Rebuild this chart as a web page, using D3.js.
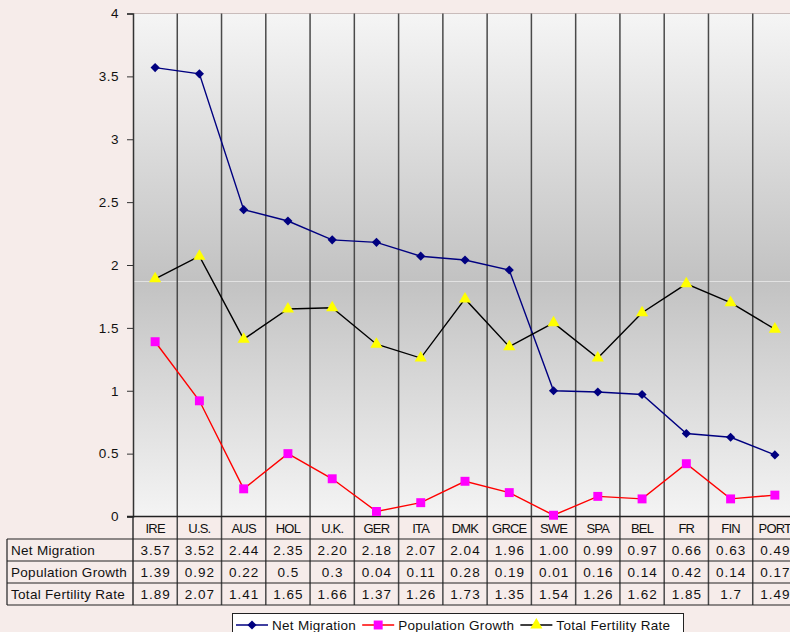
<!DOCTYPE html>
<html>
<head>
<meta charset="utf-8">
<script src="https://cdn.jsdelivr.net/npm/d3@7"></script>
<style>
  body { margin: 0; background: #f6ecea; }
  svg { display: block; font-family: "Liberation Sans", Arial, sans-serif; }
</style>
</head>
<body>
<script>
// data
var countries = ["IRE","U.S.","AUS","HOL","U.K.","GER","ITA","DMK","GRCE","SWE","SPA","BEL","FR","FIN","PORT"];
var netMigration = [3.57,3.52,2.44,2.35,2.20,2.18,2.07,2.04,1.96,1.00,0.99,0.97,0.66,0.63,0.49];
var popGrowth = [1.39,0.92,0.22,0.5,0.3,0.04,0.11,0.28,0.19,0.01,0.16,0.14,0.42,0.14,0.17];
var fertility = [1.89,2.07,1.41,1.65,1.66,1.37,1.26,1.73,1.35,1.54,1.26,1.62,1.85,1.7,1.49];
// table text as printed on the chart
var netMigrationText = ["3.57","3.52","2.44","2.35","2.20","2.18","2.07","2.04","1.96","1.00","0.99","0.97","0.66","0.63","0.49"];
var popGrowthText = ["1.39","0.92","0.22","0.5","0.3","0.04","0.11","0.28","0.19","0.01","0.16","0.14","0.42","0.14","0.17"];
var fertilityText = ["1.89","2.07","1.41","1.65","1.66","1.37","1.26","1.73","1.35","1.54","1.26","1.62","1.85","1.7","1.49"];
var yTicks = [0,0.5,1,1.5,2,2.5,3,3.5,4];

(function(){

var series = [
  {name: "Net Migration", values: netMigration, text: netMigrationText, line: "#000080", fill: "#000080", shape: "diamond"},
  {name: "Population Growth", values: popGrowth, text: popGrowthText, line: "#ff0000", fill: "#ff00ff", shape: "square"},
  {name: "Total Fertility Rate", values: fertility, text: fertilityText, line: "#000000", fill: "#ffff00", shape: "triangle"}
];

var width = 790, height = 632;
var plotLeft = 133, plotRight = 797, plotTop = 13.5, plotBottom = 516.5;
var tableLeft = 7, rowH = 22, headerH = 22.5;

var svg = d3.select("body").append("svg")
  .attr("width", width)
  .attr("height", height);

//plot background gradient
var defs = svg.append("defs");
var grad = defs.append("linearGradient")
  .attr("id", "bg")
  .attr("x1", 0).attr("y1", 0).attr("x2", 0).attr("y2", 1);
grad.append("stop").attr("offset", "0%").attr("stop-color", "#f5f5f5");
grad.append("stop").attr("offset", "53%").attr("stop-color", "#c2c2c2");
grad.append("stop").attr("offset", "100%").attr("stop-color", "#f4f4f4");

var x = d3.scaleBand().domain(countries).range([plotLeft, plotRight]).padding(0);
var y = d3.scaleLinear().domain([0, 4]).range([plotBottom, plotTop]);

svg.append("rect")
  .attr("x", plotLeft).attr("y", plotTop)
  .attr("width", plotRight - plotLeft).attr("height", plotBottom - plotTop)
  .attr("fill", "url(#bg)");

//thin light seam in the gradient
svg.append("line")
  .attr("x1", plotLeft).attr("x2", plotRight)
  .attr("y1", 281.5).attr("y2", 281.5)
  .attr("stroke", "#e2e2e2").attr("stroke-width", 1);

//top border of plot
svg.append("line")
  .attr("x1", plotLeft).attr("x2", plotRight)
  .attr("y1", plotTop).attr("y2", plotTop)
  .attr("stroke", "#c9bcbb").attr("stroke-width", 1);

var tableBottom = plotBottom + headerH + rowH * 3;

//vertical category lines running through plot and table
svg.selectAll(".vline")
  .data(countries)
  .enter().append("line")
  .attr("class", "vline")
  .attr("x1", function(d){ return x(d) + x.bandwidth(); })
  .attr("x2", function(d){ return x(d) + x.bandwidth(); })
  .attr("y1", plotTop).attr("y2", tableBottom)
  .attr("stroke", "#4a4a4a").attr("stroke-width", 1.5);

//y axis
var yAxis = d3.axisLeft(y).tickValues(yTicks).tickSize(6).tickPadding(8)
  .tickFormat(function(d){ return String(d); });
var ax = svg.append("g")
  .attr("transform", "translate(" + plotLeft + ",0)")
  .call(yAxis);
ax.select(".domain").attr("stroke", "#333").attr("stroke-width", 1.5);
ax.selectAll(".tick line").attr("stroke", "#333");
ax.selectAll("text").attr("font-size", 13.5).attr("fill", "#111")
  .attr("letter-spacing", 0.5)
  .attr("font-family", "'Liberation Sans', Arial, sans-serif");
// extend the axis line down through the table
svg.append("line")
  .attr("x1", plotLeft).attr("x2", plotLeft)
  .attr("y1", plotBottom).attr("y2", tableBottom)
  .attr("stroke", "#333").attr("stroke-width", 1.5);

//x axis line
svg.append("line")
  .attr("x1", plotLeft - 6).attr("x2", plotRight)
  .attr("y1", plotBottom).attr("y2", plotBottom)
  .attr("stroke", "#222").attr("stroke-width", 1.5);

//table horizontal lines
for (var r = 0; r <= 3; r++) {
  var ly = plotBottom + headerH + r * rowH;
  svg.append("line")
    .attr("x1", tableLeft).attr("x2", plotRight)
    .attr("y1", ly).attr("y2", ly)
    .attr("stroke", "#222").attr("stroke-width", 1.2);
}
svg.append("line")
  .attr("x1", tableLeft).attr("x2", tableLeft)
  .attr("y1", plotBottom + headerH).attr("y2", tableBottom)
  .attr("stroke", "#222").attr("stroke-width", 1.2);

//category headers
svg.selectAll(".cat")
  .data(countries)
  .enter().append("text")
  .attr("class", "cat")
  .attr("x", function(d){ return x(d) + x.bandwidth() / 2; })
  .attr("y", plotBottom + 16)
  .attr("text-anchor", "middle")
  .attr("font-size", 13)
  .attr("letter-spacing", -0.8)
  .attr("fill", "#111")
  .text(function(d){ return d; });

//table rows
series.forEach(function(s, r){
  var rowY = plotBottom + headerH + r * rowH + 16;
  svg.append("text")
    .attr("x", tableLeft + 4).attr("y", rowY)
    .attr("font-size", 13.5)
    .attr("letter-spacing", 0.3)
    .attr("fill", "#111")
    .text(s.name);
  svg.selectAll(".val" + r)
    .data(s.text)
    .enter().append("text")
    .attr("x", function(d, i){ return x(countries[i]) + x.bandwidth() / 2 + 0.5; })
    .attr("y", rowY)
    .attr("text-anchor", "middle")
    .attr("font-size", 13.5)
    .attr("letter-spacing", 1)
    .attr("fill", "#111")
    .text(function(d){ return d; });
});

//marker shapes; the diamond is a square turned 45 degrees
function marker(g, shape, fill){
  if (shape === "diamond") {
    g.append("path")
      .attr("d", d3.symbol().type(d3.symbolSquare).size(42)())
      .attr("transform", "rotate(45)")
      .attr("fill", fill);
    return;
  }
  var sym = shape === "square" ? d3.symbolSquare : d3.symbolTriangle;
  var area = shape === "square" ? 80 : 64;
  g.append("path")
    .attr("d", d3.symbol().type(sym).size(area)())
    .attr("fill", fill);
}

var line = d3.line()
  .x(function(d, i){ return x(countries[i]) + x.bandwidth() / 2; })
  .y(function(d){ return y(d); });

series.forEach(function(s){
  svg.append("path")
    .datum(s.values)
    .attr("d", line)
    .attr("fill", "none")
    .attr("stroke", s.line)
    .attr("stroke-width", 1.4);
  svg.selectAll(".m-" + s.shape)
    .data(s.values)
    .enter().append("g")
    .attr("transform", function(d, i){
      return "translate(" + (x(countries[i]) + x.bandwidth() / 2) + "," + y(d) + ")";
    })
    .each(function(){ marker(d3.select(this), s.shape, s.fill); });
});

//legend
var legend = svg.append("g");
legend.append("rect")
  .attr("x", 232.5).attr("y", 613.5)
  .attr("width", 451).attr("height", 30)
  .attr("fill", "#ffffff")
  .attr("stroke", "#222").attr("stroke-width", 1);
var lx = 236;
series.forEach(function(s){
  legend.append("line")
    .attr("x1", lx).attr("x2", lx + 32)
    .attr("y1", 625).attr("y2", 625)
    .attr("stroke", s.line).attr("stroke-width", 1.5);
  var g = legend.append("g").attr("transform", "translate(" + (lx + 16) + ",625)");
  marker(g, s.shape, s.fill);
  var t = legend.append("text")
    .attr("x", lx + 36).attr("y", 630)
    .attr("font-size", 13.5)
    .attr("letter-spacing", 0.3)
    .attr("fill", "#111")
    .text(s.name);
  lx = lx + 36 + t.node().getComputedTextLength() + 6;
});

})();
</script>
</body>
</html>
